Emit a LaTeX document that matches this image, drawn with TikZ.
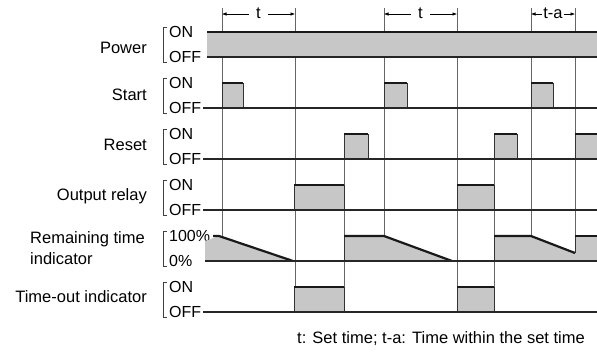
\documentclass[tikz,border=0pt]{standalone}
\usepackage{fontspec}
\setmainfont{Liberation Sans}
\usetikzlibrary{arrows.meta}
\begin{document}
\begin{tikzpicture}[x=1pt,y=-1pt,
  lbl/.style={font=\fontsize{16.5}{18}\selectfont, inner sep=0pt},
  lvl/.style={font=\fontsize{16}{18}\selectfont, inner sep=0pt, anchor=west},
  sig/.style={line width=1.2pt, black!85},
  onedge/.style={line width=2.2pt, black!90},
  side/.style={line width=0.7pt, black!80},
  gridline/.style={line width=0.6pt, black!60},
  shade/.style={fill=black!22},
  brk/.style={line width=0.6pt, black!75},
  dimarrow/.style={line width=0.6pt, -{Latex[length=4.5pt,width=3.5pt]}}
]
\useasboundingbox (0,0) rectangle (597,351);

% ---------- signal labels ----------
\node[lbl, anchor=base east] (lpower) at (147,53) {Power};
\node[lbl, anchor=base east] (lstart) at (147,100) {Start};
\node[lbl, anchor=base east] (lreset) at (147,150) {Reset};
\node[lbl, anchor=base east] (lout) at (147,200) {Output relay};
\node[lbl, anchor=base west] (lrem1) at (30,243) {Remaining time};
\node[lbl, anchor=base west] (lrem2) at (30,264) {indicator};
\node[lbl, anchor=base east] (ltout) at (147,302) {Time-out indicator};

% ---------- level labels and brackets ----------
\foreach \n/\on/\off/\ta/\tb in {pw/32/57/ON/OFF, st/83/108/ON/OFF, rs/134/159/ON/OFF, or/185/210/ON/OFF, rt/236/261/100\%/0\%, to/287/312/ON/OFF}{
  \node[lvl] (\n on) at (169,\on) {\ta};
  \node[lvl] (\n off) at (169,\off) {\tb};
  \draw[brk] (167,\on-5) -- (163.5,\on-5) -- (163.5,\off+5) -- (167,\off+5);
}

% ---------- vertical time marks ----------
\foreach \x/\ya/\yb in {222/8/236, 295/8/312, 344/134/312, 384/8/236, 457/8/312, 494/134/312, 531/8/236, 575/8/253}{
  \draw[gridline] (\x,\ya) -- (\x,\yb);
}

% ---------- dimension arrows ----------
\coordinate (d1a) at (222,14);
\coordinate (d1b) at (295,14);
\coordinate (d2a) at (384,14);
\coordinate (d2b) at (457,14);
\coordinate (d3a) at (531,14);
\coordinate (d3b) at (575,14);
\node[lbl, inner sep=1pt] (t1) at (258.5,13) {t};
\node[lbl, inner sep=1pt] (t2) at (420.5,13) {t};
\node[lbl, inner sep=1pt] (t3) at (553,13) {t-a};
\draw[dimarrow] (t1.west |- d1a) ++(-6,0) -- (d1a);
\draw[dimarrow] (t1.east |- d1b) ++(6,0) -- (d1b);
\draw[dimarrow] (t2.west |- d2a) ++(-6,0) -- (d2a);
\draw[dimarrow] (t2.east |- d2b) ++(6,0) -- (d2b);
\draw[dimarrow] (t3.west |- d3a) -- (d3a);
\draw[dimarrow] (t3.east |- d3b) -- (d3b);

% ---------- Power ----------
\fill[shade] (207,32) rectangle (597,57);
\draw[line width=2.4pt, black!90] (207,32) -- (597,32);
\draw[line width=1.4pt, black!85] (207,57) -- (597,57);

% ---------- pulses ----------
% Start
\foreach \a/\b in {222/243, 384/407, 531/553}{
  \fill[shade] (\a,83) rectangle (\b,108);
  \draw[side] (\a,108) -- (\a,83);
  \draw[onedge] (\a,83) -- (\b,83);
  \draw[side] (\b,83) -- (\b,108);
}
% Reset
\foreach \a/\b in {344/368, 494/517}{
  \fill[shade] (\a,134) rectangle (\b,159);
  \draw[side] (\a,159) -- (\a,134);
  \draw[onedge] (\a,134) -- (\b,134);
  \draw[side] (\b,134) -- (\b,159);
}
\fill[shade] (575,134) rectangle (597,159);
\draw[side] (575,159) -- (575,134);
\draw[onedge] (575,134) -- (597,134);
% Output relay
\foreach \a/\b in {294/344, 457/494}{
  \fill[shade] (\a,185) rectangle (\b,210);
  \draw[side] (\a,210) -- (\a,185);
  \draw[onedge] (\a,185) -- (\b,185);
  \draw[side] (\b,185) -- (\b,210);
}
% Time-out indicator
\foreach \a/\b in {294/344, 457/494}{
  \fill[shade] (\a,287) rectangle (\b,312);
  \draw[side] (\a,312) -- (\a,287);
  \draw[onedge] (\a,287) -- (\b,287);
  \draw[side] (\b,287) -- (\b,312);
}

% OFF base lines
\foreach \y in {108,159,210,312}{
  \draw[sig] (203,\y) -- (597,\y);
}

% ---------- Remaining time indicator ----------
\fill[shade] (205,241) -- (219,236) -- (293,261) -- (205,261) -- cycle;
\fill[shade] (344,261) -- (344,236) -- (384,236) -- (452,261) -- cycle;
\fill[shade] (494,261) -- (494,236) -- (531,236) -- (575,253) -- (575,236) -- (597,236) -- (597,261) -- cycle;
\draw[onedge] (213,236) -- (219,236) -- (293,261);
\draw[side] (344,261) -- (344,236);
\draw[onedge] (344,236) -- (384,236) -- (452,261);
\draw[side] (494,261) -- (494,236);
\draw[onedge] (494,236) -- (531,236) -- (575,253);
\draw[side] (575,253) -- (575,236);
\draw[onedge] (575,236) -- (597,236);
\draw[line width=1.6pt, black!85] (205,261) -- (597,261);

% ---------- caption ----------
\node[lbl, anchor=base west] (cap) at (297,343) {t: Set time; t-a: Time within the set time};
\end{tikzpicture}
\end{document}
